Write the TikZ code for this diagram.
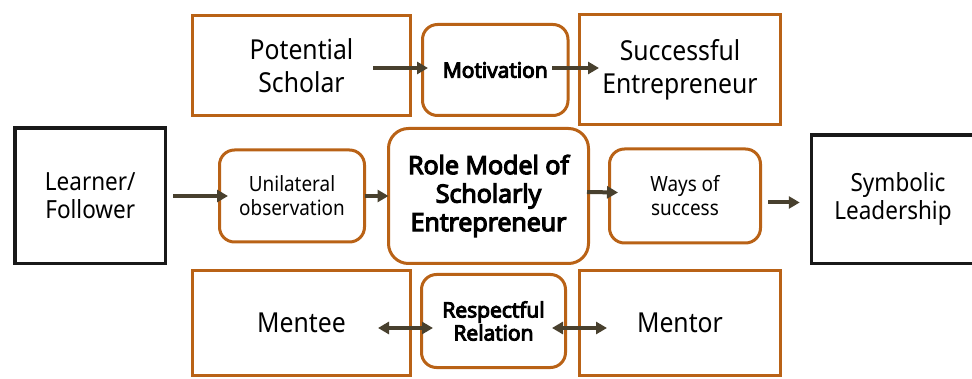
\documentclass[tikz,border=0pt]{standalone}
\usepackage{fontspec}
\setmainfont{Noto Sans}[FakeStretch=0.9]
\newfontfamily\boldfam{Open Sans}[AutoFakeBold=5]
\usepackage{tikz}
\usetikzlibrary{positioning,arrows.meta}
\definecolor{rust}{RGB}{185,98,22}
\definecolor{ink}{RGB}{72,64,46}
\tikzset{
box/.style={draw=rust,line width=3pt,rectangle,inner sep=0pt,outer sep=0pt,align=center,font=\fontsize{27.5}{33}\selectfont},
rbox/.style={box,rounded corners=15pt,font=\fontsize{21}{24}\selectfont},
kbox/.style={box,draw=black!90,line width=3.5pt,font=\fontsize{25}{28}\selectfont},
bold/.style={font=\boldfam\bfseries\fontsize{21}{23}\selectfont},
arr/.style={ink,line width=4pt,-{Triangle[length=11pt,width=12pt]}},
darr/.style={ink,line width=4pt,{Triangle[length=11pt,width=12pt]}-{Triangle[length=11pt,width=12pt]}}
}

\begin{document}
\begin{tikzpicture}[x=1pt,y=-1pt]
\useasboundingbox (0,0) rectangle (972,379);
% middle row
\node[rbox,rounded corners=20pt,minimum width=200pt,minimum height=135pt,font=\boldfam\bfseries\fontsize{25}{28.5}\selectfont] (role) at (488.5,196) {Role Model of\\Scholarly\\Entrepreneur};
\node[rbox,minimum width=145pt,minimum height=92pt,left=24pt of role] (uni) {Unilateral\\observation};
\node[kbox,minimum width=150.5pt,minimum height=135.5pt,left=54pt of uni] (lf) {Learner/\\Follower};
\node[rbox,minimum width=151pt,minimum height=94pt,right=21pt of role] (ways) {Ways of\\success};
\node[kbox,minimum width=175pt,minimum height=128.5pt,right=51pt of ways,yshift=-3.5pt] (symb) {\hspace*{-2pt}Symbolic\\Leadership\hspace*{12pt}};
% top row
\node[box,rounded corners=15pt,bold,minimum width=145.5pt,minimum height=91pt] (motiv) at (495.25,70) {Motivation};
\node[box,minimum width=218pt,minimum height=100pt,left=12pt of motiv,yshift=4.5pt] (schol) {Potential\\Scholar};
\node[box,minimum width=201pt,minimum height=110pt,right=11.5pt of motiv,yshift=0.5pt] (entre) {Successful\\Entrepreneur};
% bottom row
\node[box,rounded corners=15pt,bold,minimum width=144pt,minimum height=93pt] (resp) at (493.5,321) {Respectful\\Relation};
\node[box,minimum width=218pt,minimum height=105pt,left=11pt of resp,yshift=-2pt] (mentee) {Mentee};
\node[box,minimum width=201pt,minimum height=105pt,right=14pt of resp,yshift=-2pt] (mentor) {Mentor};
% arrows
\draw[arr] ([xshift=-37.5pt,yshift=-2.5pt]schol.east) -- ([xshift=5.5pt,yshift=2pt]motiv.west);
\draw[arr] ([xshift=-16pt,yshift=2pt]motiv.east) -- ([xshift=19.5pt,yshift=1.5pt]entre.west);
\draw[arr] ([xshift=7.75pt]lf.east) -- ([xshift=8.5pt]uni.west);
\draw[arr] (uni.east) -- (role.west);
\draw[arr] ([xshift=-1.5pt,yshift=4pt]role.east) -- ([xshift=8.5pt,yshift=3.5pt]ways.west);
\draw[arr] ([xshift=7.5pt,yshift=-6.5pt]ways.east) -- ([xshift=-11.75pt,yshift=-3pt]symb.west);
\draw[darr] ([xshift=-32.5pt,yshift=-5pt]mentee.east) -- ([xshift=11.5pt,yshift=-7pt]resp.west);
\draw[darr] ([xshift=-13.5pt,yshift=-7pt]resp.east) -- ([xshift=27.5pt,yshift=-5pt]mentor.west);
\end{tikzpicture}
\end{document}
